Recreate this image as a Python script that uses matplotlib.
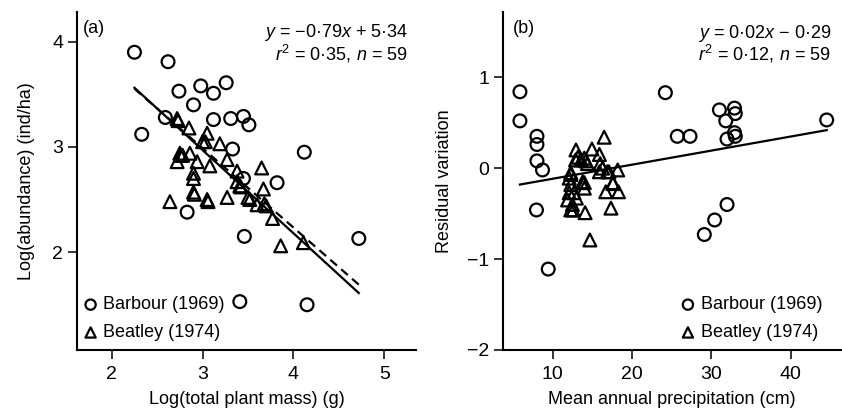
import numpy as np
import matplotlib
matplotlib.use('Agg')
import matplotlib.pyplot as plt

plt.rcParams['font.family'] = ['Liberation Sans', 'DejaVu Sans']
plt.rcParams['mathtext.fontset'] = 'custom'
plt.rcParams['mathtext.rm'] = 'Liberation Sans'
plt.rcParams['mathtext.it'] = 'Liberation Sans:italic'

# Panel (a): log plant mass vs log abundance
a_barbour_x = [2.25, 2.62, 2.74, 2.98, 3.12, 3.26, 2.90, 2.59, 3.12, 3.31, 3.45,
               3.51, 2.33, 3.33, 4.12, 3.45, 3.82, 2.83, 3.46, 4.72, 3.41, 4.15]
a_barbour_y = [3.90, 3.81, 3.53, 3.58, 3.51, 3.61, 3.40, 3.28, 3.26, 3.27, 3.29,
               3.21, 3.12, 2.98, 2.95, 2.70, 2.66, 2.38, 2.15, 2.13, 1.53, 1.50]
a_beatley_x = [2.72, 2.73, 2.85, 3.05, 3.03, 3.19, 2.75, 2.76, 2.86, 2.72, 2.94,
               3.08, 3.27, 3.38, 3.65, 2.90, 2.90, 3.41, 3.38, 3.67, 2.90, 2.91,
               3.05, 3.06, 3.27, 3.50, 3.60, 3.68, 2.64, 3.77, 3.86, 4.11, 3.42,
               2.78, 3.52, 3.70, 3.00]
a_beatley_y = [3.27, 3.25, 3.18, 3.13, 3.05, 3.03, 2.94, 2.92, 2.94, 2.86, 2.86,
               2.82, 2.88, 2.77, 2.80, 2.75, 2.70, 2.63, 2.67, 2.60, 2.57, 2.55,
               2.50, 2.48, 2.52, 2.52, 2.45, 2.46, 2.48, 2.32, 2.06, 2.09, 2.62,
               2.92, 2.50, 2.44, 3.05]
a_fit = (-0.79, 5.34)
a_fit_dashed = (-0.754, 5.25)

# Panel (b): precipitation vs residual
b_barbour_x = [5.9, 5.9, 8.04, 8.04, 8.04, 8.74, 7.98, 9.46, 24.2, 25.7, 27.3,
               31.0, 32.9, 33.0, 31.8, 32.9, 31.96, 33.0, 44.5, 31.96, 30.4, 29.1]
b_barbour_y = [0.84, 0.52, 0.35, 0.26, 0.08, -0.02, -0.46, -1.11, 0.83, 0.35, 0.35,
               0.64, 0.66, 0.60, 0.52, 0.39, 0.32, 0.35, 0.53, -0.40, -0.57, -0.73]
b_beatley_x = [16.5, 12.95, 14.96, 15.9, 14.0, 13.6, 12.9, 14.4, 16.3, 16.9, 18.2,
               12.3, 12.1, 14.0, 17.6, 12.3, 13.8, 14.0, 12.3, 12.1, 12.7, 11.9,
               12.3, 12.6, 14.1, 16.7, 17.6, 18.3, 17.35, 14.7, 15.9, 17.1, 13.2,
               16.0, 14.2, 12.5, 13.0]
b_beatley_y = [0.34, 0.20, 0.21, 0.15, 0.11, 0.09, 0.09, 0.05, 0.00, -0.04, -0.02,
               -0.05, -0.11, -0.16, -0.17, -0.07, -0.15, -0.22, -0.18, -0.27, -0.27, -0.35,
               -0.46, -0.46, -0.49, -0.26, -0.16, -0.26, -0.44, -0.79, -0.04, -0.04, 0.12,
               0.05, 0.08, -0.40, -0.33]
b_fit = (0.0155, -0.272)

fig = plt.figure(figsize=(8.42, 4.12), dpi=100)
ax1 = fig.add_axes([0.0915, 0.1505, 0.4026, 0.821])
ax2 = fig.add_axes([0.5974, 0.1505, 0.4014, 0.821])

mk = dict(facecolors='none', edgecolors='black', linewidths=1.6, s=85, zorder=3)


def style(ax):
    for s in ['top', 'right']:
        ax.spines[s].set_visible(False)
    for s in ['left', 'bottom']:
        ax.spines[s].set_linewidth(1.5)
    ax.tick_params(direction='out', length=6.5, width=1.1, labelsize=14)
    ax.tick_params(axis='x', pad=5)
    ax.tick_params(axis='y', pad=3.5)


def draw_legend(ax, loc, anchor):
    h1 = ax.scatter([], [], marker='o', **mk)
    h2 = ax.scatter([], [], marker='^', **mk)
    ax.legend([h1, h2], ['Barbour (1969)', 'Beatley (1974)'], loc=loc,
              bbox_to_anchor=anchor, frameon=False, fontsize=13,
              handlelength=0.9, handletextpad=0.25, borderpad=0.3,
              borderaxespad=0.0, labelspacing=0.6,
              markerscale=0.8, scatterpoints=1)


# (a)
ax1.scatter(a_barbour_x, a_barbour_y, marker='o', **mk)
ax1.scatter(a_beatley_x, a_beatley_y, marker='^', **mk)
xs = np.array([min(a_barbour_x + a_beatley_x), max(a_barbour_x + a_beatley_x)])
ax1.plot(xs, a_fit[0] * xs + a_fit[1], color='black', lw=1.6, zorder=4)
ax1.plot(xs, a_fit_dashed[0] * xs + a_fit_dashed[1], color='black', lw=1.6,
         ls=(0, (4, 2.5)), zorder=4)
ax1.set_xlim(1.618, 5.35)
ax1.set_ylim(1.07, 4.285)
ax1.set_xticks([2, 3, 4, 5])
ax1.set_yticks([2, 3, 4])
ax1.set_xlabel('Log(total plant mass) (g)', fontsize=13, labelpad=6)
ax1.set_ylabel('Log(abundance) (ind/ha)', fontsize=13, labelpad=12)
ax1.text(0.018, 0.937, '(a)', transform=ax1.transAxes, fontsize=13, va='baseline')
ax1.text(0.976, 0.925, '$y$ = \u22120\u00b779$x$ + 5\u00b734',
         transform=ax1.transAxes, fontsize=13, va='baseline', ha='right')
ax1.text(0.976, 0.857, '$r^2$ = 0\u00b735, $n$ = 59',
         transform=ax1.transAxes, fontsize=13, va='baseline', ha='right')
style(ax1)
draw_legend(ax1, 'lower left', (0.0, 0.01))

# (b)
ax2.scatter(b_barbour_x, b_barbour_y, marker='o', **mk)
ax2.scatter(b_beatley_x, b_beatley_y, marker='^', **mk)
xs = np.array([min(b_barbour_x + b_beatley_x), max(b_barbour_x + b_beatley_x)])
ax2.plot(xs, b_fit[0] * xs + b_fit[1], color='black', lw=1.6, zorder=4)
ax2.set_xlim(3.77, 46.3)
ax2.set_ylim(-2.0, 1.72)
ax2.set_xticks([10, 20, 30, 40])
ax2.set_yticks([-2, -1, 0, 1])
ax2.set_yticklabels(['\u22122', '\u22121', '0', '1'])
ax2.set_xlabel('Mean annual precipitation (cm)', fontsize=13, labelpad=6)
ax2.set_ylabel('Residual variation', fontsize=13, labelpad=10)
ax2.text(0.03, 0.937, '(b)', transform=ax2.transAxes, fontsize=13, va='baseline')
ax2.text(0.970, 0.922, '$y$ = 0\u00b702$x$ \u2212 0\u00b729',
         transform=ax2.transAxes, fontsize=13, va='baseline', ha='right')
ax2.text(0.970, 0.855, '$r^2$ = 0\u00b712, $n$ = 59',
         transform=ax2.transAxes, fontsize=13, va='baseline', ha='right')
style(ax2)
draw_legend(ax2, 'lower right', (0.96, 0.01))

fig.savefig('out.png', dpi=100)
